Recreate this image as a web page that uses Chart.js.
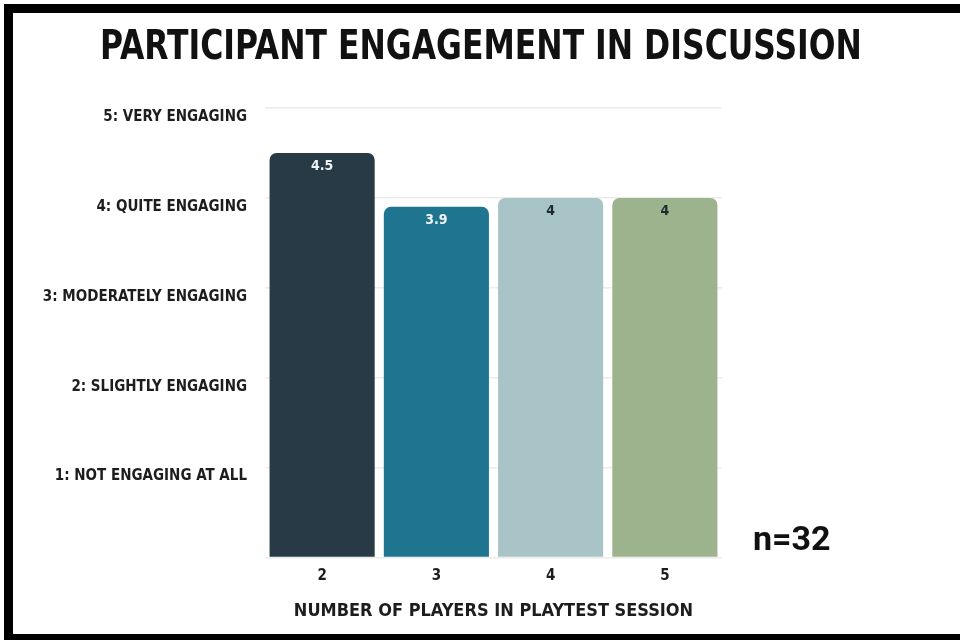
<!DOCTYPE html>
<html>
<head>
<meta charset="utf-8">
<script src="https://cdn.jsdelivr.net/npm/chart.js@4"></script>
<style>
  html, body { margin: 0; padding: 0; background: #fff; }
  #wrap { position: relative; width: 960px; height: 640px; overflow: hidden; }
  #frame {
    position: absolute; left: 4px; top: 4px; width: 1000px; height: 621px;
    border-top: 9px solid #000; border-left: 9px solid #000; border-bottom: 7px solid #000;
    pointer-events: none;
  }
  #title {
    position: absolute; left: 0; top: 22px; width: 962px; text-align: center;
    font: bold 35px/46px "DejaVu Sans Condensed", "DejaVu Sans", sans-serif; color: #111;
    white-space: nowrap; transform: scaleY(1.17);
  }
  #sample {
    position: absolute; left: 753px; top: 518px;
    font: bold 34px Roboto, "Liberation Sans", sans-serif; color: #111;
  }
</style>
</head>
<body>
<div id="wrap">
  <canvas id="engagement-chart" width="960" height="640"></canvas>
  <div id="frame"></div>
  <div id="title">PARTICIPANT ENGAGEMENT IN DISCUSSION</div>
  <div id="sample">n=32</div>
</div>
<script>
// Average engagement score per session size
const playerCounts = ["2", "3", "4", "5"];
const engagementScores = [4.5, 3.9, 4, 4];
const barColors = ["#273a45", "#1f7590", "#a8c4c6", "#9cb38e"];
const valueColors = ["#eef2f3", "#eef2f3", "#1c2a30", "#1c2a30"];
const scaleLabels = {
  1: "1: NOT ENGAGING AT ALL",
  2: "2: SLIGHTLY ENGAGING",
  3: "3: MODERATELY ENGAGING",
  4: "4: QUITE ENGAGING",
  5: "5: VERY ENGAGING"
};

const labelFont = "'DejaVu Sans Condensed', 'DejaVu Sans', sans-serif";
const textColor = "#1d1d1d";

// Writes each score just inside the top of its bar
const barValueLabels = {
  id: "barValueLabels",
  afterDatasetsDraw(chart) {
    const ctx = chart.ctx;
    const meta = chart.getDatasetMeta(0);
    ctx.save();
    ctx.font = "bold 14px " + labelFont;
    ctx.textAlign = "center";
    ctx.textBaseline = "middle";
    meta.data.forEach((bar, i) => {
      ctx.fillStyle = valueColors[i];
      ctx.fillText(String(engagementScores[i]), bar.x, bar.y + 13);
    });
    ctx.restore();
  }
};

const ctx = document.getElementById("engagement-chart").getContext("2d");

new Chart(ctx, {
  type: "bar",
  data: {
    labels: playerCounts,
    datasets: [{
      data: engagementScores,
      backgroundColor: barColors,
      borderRadius: { topLeft: 7, topRight: 7 },
      borderSkipped: "bottom",
      categoryPercentage: 0.92,
      barPercentage: 1
    }]
  },
  options: {
    responsive: false,
    animation: false,
    layout: { padding: { left: 0, right: 238, top: 108, bottom: 14 } },
    plugins: {
      legend: { display: false },
      tooltip: { enabled: false }
    },
    scales: {
      x: {
        grid: { display: false, drawTicks: false },
        border: { display: false },
        ticks: {
          color: textColor,
          padding: 10,
          font: { family: labelFont, size: 15, weight: "bold" }
        },
        title: {
          display: true,
          text: "NUMBER OF PLAYERS IN PLAYTEST SESSION",
          color: textColor,
          font: { family: labelFont, size: 18, weight: "bold", lineHeight: 1.2 },
          padding: { top: 5, bottom: 4 }
        }
      },
      y: {
        min: 0,
        max: 5,
        afterFit(axis) { axis.width = 265; },
        grid: { color: "#ececec", lineWidth: 1.5, drawTicks: false },
        border: { display: false },
        ticks: {
          stepSize: 1,
          padding: 18,
          labelOffset: 9,
          color: textColor,
          font: { family: labelFont, size: 15, weight: "bold" },
          callback: (v) => scaleLabels[v] || ""
        }
      }
    }
  },
  plugins: [barValueLabels]
});
</script>
</body>
</html>
